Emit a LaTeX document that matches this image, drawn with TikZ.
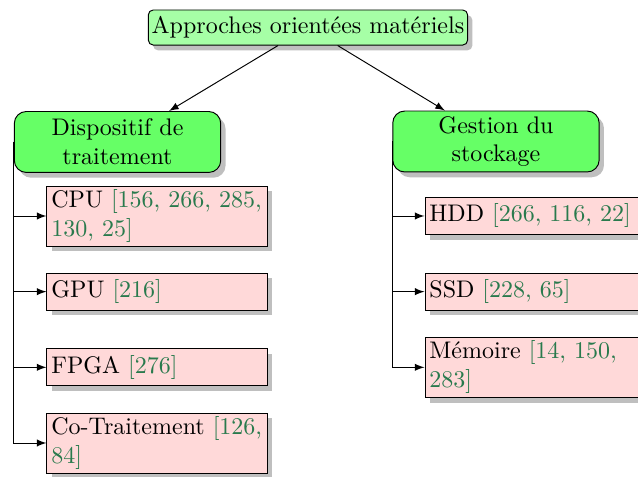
\documentclass[tikz,border=0pt]{standalone}
\usetikzlibrary{positioning,shadows}
\definecolor{citegreen}{RGB}{41,122,77}
\newcommand{\refnums}[1]{\textcolor{citegreen}{[#1]}}

\begin{document}
\begin{tikzpicture}[
    node distance=1.108cm,
    shade/.style={drop shadow={shadow xshift=2pt, shadow yshift=-2.2pt, fill=black!25, opacity=1}},
    root/.style={rectangle, draw, fill=green!35, rounded corners=2pt, minimum width=133pt, minimum height=14.6pt, inner sep=1pt, shade},
    category/.style={rectangle, draw, fill=green!60, text width=80pt, align=center, rounded corners=5pt, minimum height=25.4pt, inner xsep=3pt, inner ysep=1pt, shade},
    leaf/.style={rectangle, draw, fill=red!15, text width=88pt, align=left, minimum height=15.4pt, inner xsep=1.85pt, inner ysep=1.5pt, shade},
    arrow/.style={->,>=latex}
]
    \useasboundingbox (0,0) rectangle (9.343,-6.985);

    % Top
    \node [root] (root) at (4.51,-0.403) {Approches orientées matériels};

    % Categories
    \node [category] (proc) at (1.721,-2.079) {Dispositif de\\traitement};
    \node [category] (stock) at (7.263,-2.072) {Gestion du\\stockage};

    % Processing devices
    \node [leaf] (cpu) at (2.299,-3.163) {CPU \refnums{156, 266, 285,\\130, 25}};
    \node [leaf, below of=cpu] (gpu) {GPU \refnums{216}};
    \node [leaf, below of=gpu] (fpga) {FPGA \refnums{276}};
    \node [leaf, below of=fpga] (cotrait) {Co-Traitement \refnums{126,\\84}};

    % Storage
    \node [leaf] (hdd) at (7.835,-3.163) {HDD \refnums{266, 116, 22}};
    \node [leaf, below of=hdd] (ssd) {SSD \refnums{228, 65}};
    \node [leaf, below of=ssd] (mem) {Mémoire \refnums{14, 150,\\283}};

    % Arrows
    \draw [arrow] (root) -- (proc);
    \draw [arrow] (root) -- (stock);
    \foreach \child in {cpu, gpu, fpga, cotrait}
        \draw [arrow] (proc.west) |- (\child.west);
    \foreach \child in {hdd, ssd, mem}
        \draw [arrow] (stock.west) |- (\child.west);
\end{tikzpicture}
\end{document}
